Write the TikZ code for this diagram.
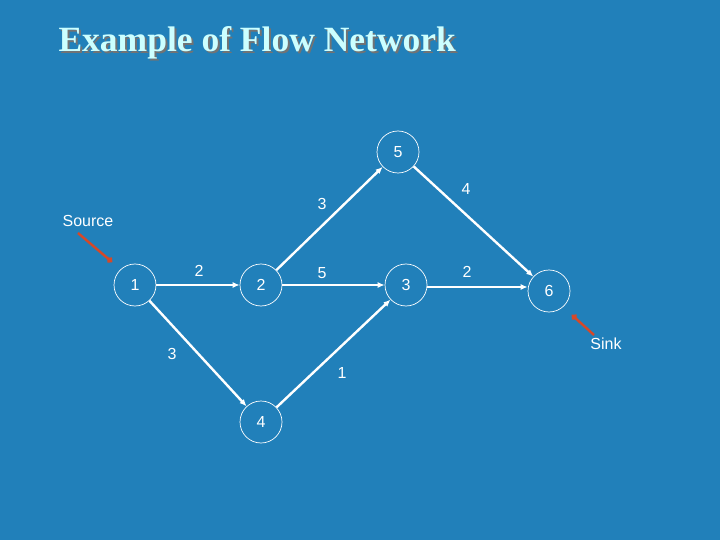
\documentclass[tikz,border=0pt]{standalone}
\usepackage{fontspec}
\setmainfont{Liberation Serif}
\setsansfont{Liberation Sans}
\usetikzlibrary{arrows.meta}
\definecolor{slidebg}{RGB}{33,128,186}
\definecolor{titlec}{RGB}{204,255,255}
\definecolor{pointc}{RGB}{214,72,40}

\begin{document}
\begin{tikzpicture}[x=1pt,y=-1pt,
  vertex/.style={circle,draw=white,line width=0.7pt,minimum size=42pt,inner sep=0pt,text=white,font=\sffamily\fontsize{16}{16}\selectfont},
  flow/.style={draw=white,line width=2.4pt,-{Latex[length=7pt,width=6pt]}},
  capacity/.style={text=white,font=\sffamily\fontsize{16}{16}\selectfont},
  pointer/.style={draw=pointc,line width=2.4pt,-{Circle[length=6pt]}}]
  % background
  \fill[slidebg] (0,0) rectangle (720,540);
  \useasboundingbox (0,0) rectangle (720,540);
  % title with shadow
  \node[anchor=west,text=black!55,font=\bfseries\fontsize{35.5}{35.5}\selectfont] at (57,44.5) {Example of Flow Network};
  \node[anchor=west,text=titlec,font=\bfseries\fontsize{35.5}{35.5}\selectfont] (title) at (55,42.5) {Example of Flow Network};
  % vertices
  \node[vertex] (n1) at (135,285) {1};
  \node[vertex] (n2) at (261,285) {2};
  \node[vertex] (n5) at (398,152) {5};
  \node[vertex] (n3) at (406,285) {3};
  \node[vertex] (n6) at (549,291) {6};
  \node[vertex] (n4) at (261,422) {4};
  % edges with capacities
  \draw[flow] (n1) -- (n2);
  \draw[flow] (n2) -- (n5);
  \draw[flow] (n2) -- (n3);
  \draw[flow] (n5) -- (n6);
  \draw[flow] ([yshift=-2pt]n3.east) -- ([yshift=-2pt]n3.east -| n6.west);
  \draw[flow] (n1) -- (n4);
  \draw[flow] (n4) -- (n3);
  \node[capacity] (c12) at (199,271) {2};
  \node[capacity] (c25) at (322,204) {3};
  \node[capacity] (c23) at (322,273) {5};
  \node[capacity] (c56) at (466,189) {4};
  \node[capacity] (c36) at (467,272) {2};
  \node[capacity] (c14) at (172,354) {3};
  \node[capacity] (c43) at (342,373) {1};
  % source and sink
  \node[capacity] (src) at (88,221) {Source};
  \node[capacity] (snk) at (606,344) {Sink};
  \coordinate (srcA) at (78,233);
  \coordinate (srcB) at (112,262);
  \coordinate (snkA) at (594,335);
  \coordinate (snkB) at (572,315);
  \draw[pointer] (srcA) -- (srcB);
  \draw[pointer] (snkA) -- (snkB);
\end{tikzpicture}
\end{document}
